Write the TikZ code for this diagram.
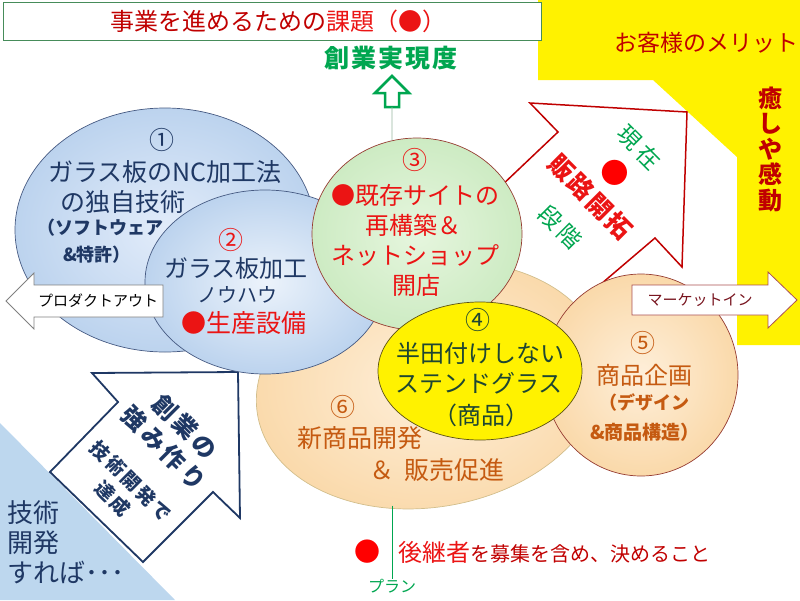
\documentclass[tikz,border=0pt]{standalone}
\usepackage{fontspec}
\setmainfont{Noto Sans CJK JP}
\usepackage{tikz}
\usetikzlibrary{shapes.geometric, calc}

\definecolor{navy}{RGB}{31,56,100}
\definecolor{ttlred}{RGB}{192,0,0}
\definecolor{hotred}{RGB}{235,20,20}
\definecolor{kgreen}{RGB}{0,166,80}
\definecolor{tanbrown}{RGB}{197,90,17}
\definecolor{stained}{RGB}{30,70,50}
\definecolor{skyfill}{RGB}{189,215,238}
\definecolor{boxgreen}{RGB}{70,140,90}
\definecolor{blueline}{RGB}{70,90,130}
\definecolor{rimred}{RGB}{150,60,50}
\definecolor{rimtan}{RGB}{210,190,140}
\definecolor{rimolive}{RGB}{90,80,20}
\definecolor{axisgray}{RGB}{150,180,160}
\definecolor{mktred}{RGB}{170,80,80}
\definecolor{mkttext}{RGB}{120,20,30}
\definecolor{blueinA}{RGB}{226,236,250}
\definecolor{blueinB}{RGB}{236,243,251}
\definecolor{blueout}{RGB}{188,211,238}
\definecolor{greenin}{RGB}{230,246,222}
\definecolor{greenout}{RGB}{205,235,195}
\definecolor{peachin}{RGB}{254,239,218}
\definecolor{peachout}{RGB}{250,217,170}

\newcommand{\jfs}[1]{\fontsize{#1}{#1}\selectfont}

\begin{document}
\begin{tikzpicture}[x=1pt, y=-1pt,
    bubble/.style={ellipse, draw, line width=0.7pt, inner sep=0pt},
    lbl/.style={inner sep=0pt, align=center},
    diagtxt/.style={lbl, rotate=-45},
    sidearrow/.style={fill=white, line width=0.8pt, line join=miter}
]
\useasboundingbox (0,0) rectangle (800,600);

% backdrops
\fill[yellow] (538,0) -- (800,0) -- (800,345) -- (737,345) -- (737,157) -- (653,80) -- (538,80) -- cycle;
\fill[skyfill] (0,423) -- (175,600) -- (0,600) -- cycle;

% title
\draw[boxgreen, line width=0.8pt, fill=white] (3,2) rectangle (541,40);
\node[lbl, font=\jfs{24}] (title) at (278,21) {\textcolor{ttlred}{事業を進めるための}\textcolor{hotred}{課題（●）}};

% customer side
\node[lbl, font=\jfs{23}, text=ttlred] (merit) at (706,43) {お客様のメリット};
\node[lbl, font=\bfseries\fontsize{24}{25.5}\selectfont, text=ttlred] (kando) at (770,149) {癒\\し\\や\\感\\動};

% goal arrow
\draw[kgreen, line width=2.5pt, fill=white, line join=miter] (392,76) -- (409,93) -- (399,93) -- (399,107) -- (385,107) -- (385,93) -- (375,93) -- cycle;
\coordinate (upbase) at (392,107);
\node[lbl, font=\bfseries\jfs{25}\addfontfeature{LetterSpace=8}, text=kgreen] (goal) at (391,58) {創業実現度};

% sales arrow
\draw[ttlred, line width=1.5pt, fill=white, line join=miter] (460,225) -- (558,132) -- (530,103) -- (687,112) -- (682,267) -- (655,238) -- (560,319) -- cycle;

% strength arrow
\draw[navy, line width=1.8pt, fill=white, line join=miter] (92,373) -- (238,372) -- (240,518) -- (213,492) -- (143,562) -- (50,472) -- (118,402) -- cycle;

% bubbles
\node[bubble, draw=blueline, inner color=blueinA, outer color=blueout, minimum width=300pt, minimum height=244pt] (c1) at (165,230) {};
\node[bubble, draw=rimtan, rotate=10, inner color=peachin, outer color=peachout, minimum width=350pt, minimum height=244pt] (c6) at (430,385) {};
\node[bubble, draw=rimred, inner color=peachin, outer color=peachout, minimum width=194pt, minimum height=202pt] (c5) at (641,375) {};
\node[bubble, draw=blueline, inner color=blueinB, outer color=blueout, minimum width=240pt, minimum height=184pt] (c2) at (265,282) {};
\node[bubble, draw=rimred, inner color=greenin, outer color=greenout, minimum width=210pt, minimum height=192pt] (c3) at (417,234) {};
\node[bubble, draw=rimolive, fill=yellow, minimum width=204pt, minimum height=138pt] (c4) at (480,371) {};

% side arrows
\draw[sidearrow, draw=gray] (6,301) -- (34,273) -- (34,285) -- (163,285) -- (163,317) -- (34,317) -- (34,329) -- cycle;
\node[lbl, font=\jfs{15}] (prodout) at (98,301) {プロダクトアウト};
\draw[sidearrow, draw=mktred] (632,285) -- (768,285) -- (768,272) -- (797,300) -- (768,328) -- (768,315) -- (632,315) -- cycle;
\node[lbl, font=\jfs{15}, text=mkttext] (mktin) at (700,300) {マーケットイン};

% axis line
\draw[axisgray, line width=0.8pt] (upbase) -- (c3.105);

% texts of bubble 1
\node[lbl, font=\jfs{25}, text=navy] (n1) at (162,140) {①};
\node[lbl, font=\jfs{25}, text=navy] (t1a) at (165,172) {ガラス板のNC加工法};
\node[lbl, font=\jfs{25}, text=navy] (t1b) at (123,202) {の独自技術};
\node[lbl, font=\bfseries\jfs{18}, text=navy] (t1c) at (100,228) {（ソフトウェア};
\node[lbl, font=\bfseries\jfs{18}, text=navy] (t1d) at (97,255) {\&特許）};

% texts of bubble 2
\node[lbl, font=\jfs{25}, text=hotred] (n2) at (231,240) {②};
\node[lbl, font=\jfs{24}, text=navy] (t2a) at (236,268) {ガラス板加工};
\node[lbl, font=\jfs{20}, text=navy] (t2b) at (237,295) {ノウハウ};
\node[lbl, font=\jfs{25}, text=hotred] (t2c) at (244,323) {●生産設備};

% texts of bubble 3
\node[lbl, font=\jfs{25}, text=hotred] (n3) at (415,160) {③};
\node[lbl, font=\jfs{24}, text=hotred] (t3a) at (415,195) {●既存サイトの};
\node[lbl, font=\jfs{24}, text=hotred] (t3b) at (413,225) {再構築＆};
\node[lbl, font=\jfs{24}, text=hotred] (t3c) at (415,255) {ネットショップ};
\node[lbl, font=\jfs{24}, text=hotred] (t3d) at (416,285) {開店};

% texts of bubble 4
\node[lbl, font=\jfs{25}, text=stained] (n4) at (478,320) {④};
\node[lbl, font=\jfs{24}, text=stained] (t4a) at (480,353) {半田付けしない};
\node[lbl, font=\jfs{24}, text=stained] (t4b) at (479,383) {ステンドグラス};
\node[lbl, font=\jfs{24}, text=stained] (t4c) at (481,415) {（商品）};

% texts of bubble 5
\node[lbl, font=\jfs{25}, text=tanbrown] (n5) at (643,343) {⑤};
\node[lbl, font=\jfs{24}, text=tanbrown] (t5a) at (644,375) {商品企画};
\node[lbl, font=\bfseries\jfs{18}, text=tanbrown] (t5b) at (644,403) {（デザイン};
\node[lbl, font=\bfseries\jfs{19}, text=tanbrown] (t5c) at (645,432) {\&商品構造）};

% texts of bubble 6
\node[lbl, font=\jfs{25}, text=tanbrown] (n6) at (343,407) {⑥};
\node[lbl, font=\jfs{25}, text=tanbrown] (t6a) at (360,438) {新商品開発};
\node[lbl, font=\jfs{25}, text=tanbrown] (t6b) at (437,470) {＆\hspace{10pt}販売促進};

% texts on the sales arrow
\node[diagtxt, font=\fontsize{23}{33}\selectfont] (sales) at (600,187)
  {\textcolor{kgreen}{\addfontfeature{LetterSpace=18}現在}\\[4.3pt]
   \textcolor{red}{\fontsize{28}{33}\selectfont ●}\\
   \textcolor{hotred}{\bfseries\fontsize{25}{33}\selectfont\addfontfeature{LetterSpace=8}販路開拓}\\[8.6pt]
   \textcolor{kgreen}{\addfontfeature{LetterSpace=18}段階}};

% texts on the strength arrow
\node[diagtxt, font=\bfseries\fontsize{19}{25}\selectfont, text=navy] (strong) at (150,462)
  {{\fontsize{24}{25}\selectfont\addfontfeature{LetterSpace=15}創業の}\\[5pt]
   {\fontsize{24}{25}\selectfont\addfontfeature{LetterSpace=15}強み作り}\\[20pt]
   {\addfontfeature{LetterSpace=12}技術開発で}\\
   {\addfontfeature{LetterSpace=12}達成}};

% corner text
\node[lbl, align=left, anchor=west, font=\fontsize{26}{30}\selectfont, text=navy] (ifdev) at (7,542) {技術\\開発\\すれば･･･};

% plan
\node[lbl, font=\jfs{26}, text=red] (heirdot) at (367,552) {●};
\node[lbl, anchor=west, font=\jfs{20}, text=ttlred] (heir) at (398,552) {\textcolor{hotred}{\jfs{24}後継者}を募集を含め、決めること};
\node[lbl, font=\jfs{16}, text=kgreen] (plan) at (392,586) {プラン};
\draw[kgreen, line width=0.8pt] (plan.north |- c6.south) -- (plan.north);

\end{tikzpicture}
\end{document}
